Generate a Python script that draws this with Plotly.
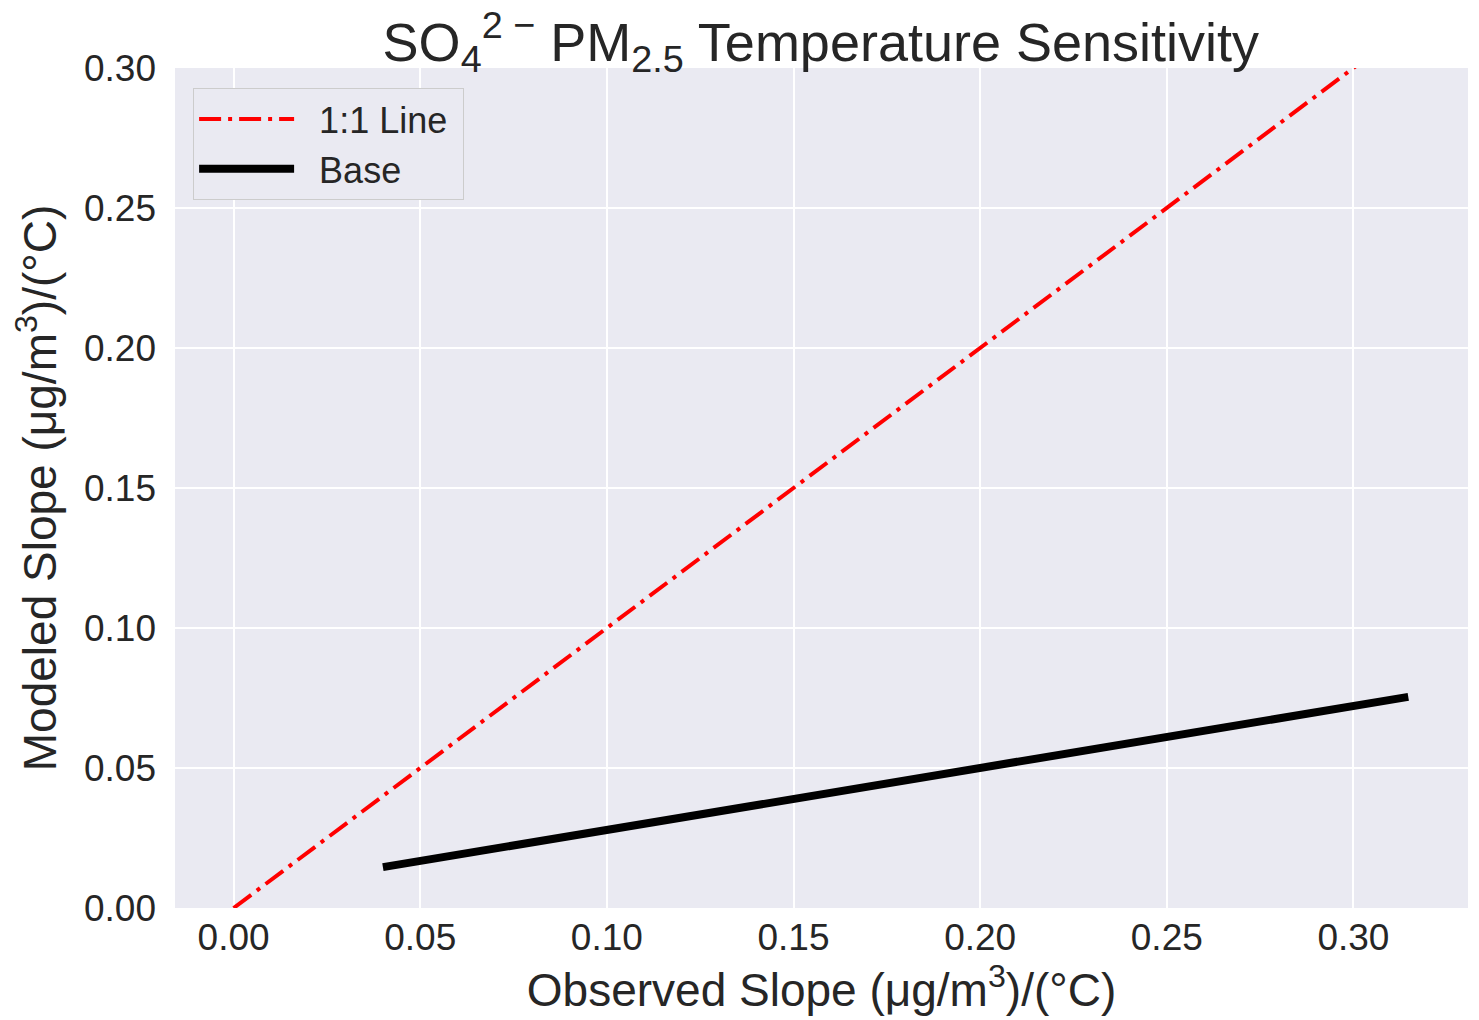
import plotly.graph_objects as go

# Data
one_to_one_x = [0.0, 0.315]
one_to_one_y = [0.0, 0.315]
base_x = [0.040, 0.3147]
base_y = [0.0146, 0.0754]
series_names = ["1:1 Line", "Base"]

tick_vals = [0.00, 0.05, 0.10, 0.15, 0.20, 0.25, 0.30]
tick_text = ["0.00", "0.05", "0.10", "0.15", "0.20", "0.25", "0.30"]

FONT = "Liberation Sans, Arial, sans-serif"
TXT = "#262626"
PAD = "\u00a0\u00a0"

fig = go.Figure()
fig.add_trace(go.Scatter(
    x=one_to_one_x, y=one_to_one_y, mode="lines", name=PAD + series_names[0] + "\u00a0",
    line=dict(color="red", width=4, dash="22px,7px,4px,7px"),
))
fig.add_trace(go.Scatter(
    x=base_x, y=base_y, mode="lines", name=PAD + series_names[1] + "\u00a0",
    line=dict(color="black", width=8),
))

fig.update_layout(
    width=1479, height=1020,
    margin=dict(l=175, r=11, t=68, b=112),
    paper_bgcolor="white",
    plot_bgcolor="#EAEAF2",
    font=dict(family=FONT, color=TXT),
    title=dict(
        text="SO<sub>4</sub><sup>2 \u2212</sup> PM<sub>2.5</sub> Temperature Sensitivity",
        x=0.555, xanchor="center", y=0.959, yanchor="middle",
        font=dict(size=54, color=TXT, family=FONT),
    ),
    xaxis=dict(
        range=[-0.0157, 0.3307], tickvals=tick_vals, ticktext=tick_text,
        showgrid=True, gridcolor="white", gridwidth=1.5, zeroline=False,
        showline=False, ticks="", tickfont=dict(size=37, color=TXT),
        ticklabelstandoff=4,
        title=dict(text="Observed Slope (μg/m<sup>3</sup>)/(°C)",
                   font=dict(size=46, color=TXT), standoff=16),
    ),
    yaxis=dict(
        range=[0, 0.30], tickvals=tick_vals, ticktext=tick_text,
        showgrid=True, gridcolor="white", gridwidth=1.5, zeroline=False,
        showline=False, ticks="", tickfont=dict(size=37, color=TXT),
        ticklabelstandoff=18,
        title=dict(text="Modeled Slope (μg/m<sup>3</sup>)/(°C)",
                   font=dict(size=46, color=TXT), standoff=12),
    ),
    legend=dict(
        x=0.014, y=0.976, xanchor="left", yanchor="top",
        bgcolor="#EAEAF2", bordercolor="#CCCCCC", borderwidth=1,
        font=dict(size=36, color=TXT), tracegroupgap=0,
        itemwidth=95,
    ),
    showlegend=True,
)

fig.write_html("out.html")
